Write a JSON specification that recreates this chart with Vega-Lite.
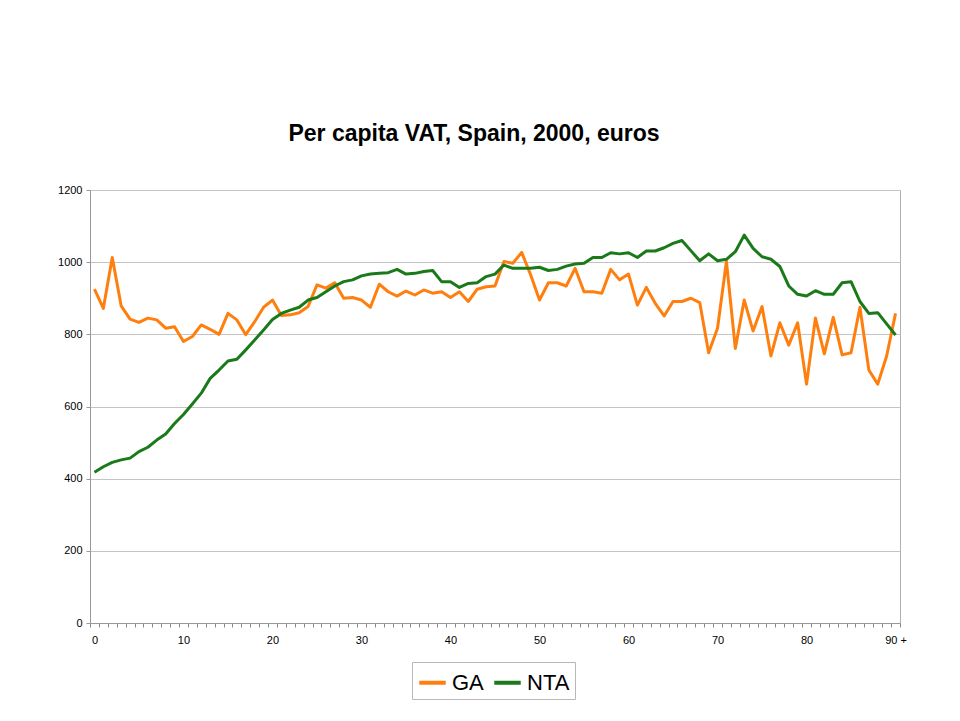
{
  "$schema": "https://vega.github.io/schema/vega-lite/v6.json",
  "autosize": {"type": "none"},
  "width": 810,
  "height": 433,
  "padding": {"left": 90, "top": 190, "right": 60, "bottom": 98},
  "background": "white",
  "title": {
    "text": "Per capita VAT, Spain, 2000, euros",
    "font": "Liberation Sans",
    "fontSize": 23,
    "fontWeight": "bold",
    "color": "black",
    "anchor": "middle",
    "dx": -21,
    "offset": 38
  },
  "config": {
    "view": {"stroke": "#b0b0b0", "strokeWidth": 1},
    "font": "Liberation Sans"
  },
  "data": {
    "values": [
      {"age": 0, "GA": 925, "NTA": 418}, {"age": 1, "GA": 872, "NTA": 433}, {"age": 2, "GA": 1013, "NTA": 445},
      {"age": 3, "GA": 879, "NTA": 452}, {"age": 4, "GA": 842, "NTA": 457}, {"age": 5, "GA": 833, "NTA": 475},
      {"age": 6, "GA": 845, "NTA": 487}, {"age": 7, "GA": 840, "NTA": 507}, {"age": 8, "GA": 817, "NTA": 524},
      {"age": 9, "GA": 821, "NTA": 553}, {"age": 10, "GA": 780, "NTA": 578}, {"age": 11, "GA": 794, "NTA": 607},
      {"age": 12, "GA": 826, "NTA": 637}, {"age": 13, "GA": 814, "NTA": 678}, {"age": 14, "GA": 800, "NTA": 701},
      {"age": 15, "GA": 858, "NTA": 726}, {"age": 16, "GA": 840, "NTA": 731}, {"age": 17, "GA": 799, "NTA": 757},
      {"age": 18, "GA": 835, "NTA": 784}, {"age": 19, "GA": 875, "NTA": 812}, {"age": 20, "GA": 895, "NTA": 841},
      {"age": 21, "GA": 852, "NTA": 858}, {"age": 22, "GA": 854, "NTA": 867}, {"age": 23, "GA": 860, "NTA": 875},
      {"age": 24, "GA": 877, "NTA": 895}, {"age": 25, "GA": 937, "NTA": 902}, {"age": 26, "GA": 928, "NTA": 918},
      {"age": 27, "GA": 943, "NTA": 934}, {"age": 28, "GA": 900, "NTA": 946}, {"age": 29, "GA": 902, "NTA": 951},
      {"age": 30, "GA": 895, "NTA": 962}, {"age": 31, "GA": 875, "NTA": 967}, {"age": 32, "GA": 939, "NTA": 969},
      {"age": 33, "GA": 918, "NTA": 971}, {"age": 34, "GA": 906, "NTA": 980}, {"age": 35, "GA": 920, "NTA": 967},
      {"age": 36, "GA": 909, "NTA": 969}, {"age": 37, "GA": 923, "NTA": 974}, {"age": 38, "GA": 914, "NTA": 977},
      {"age": 39, "GA": 918, "NTA": 946}, {"age": 40, "GA": 902, "NTA": 946}, {"age": 41, "GA": 918, "NTA": 930},
      {"age": 42, "GA": 891, "NTA": 941}, {"age": 43, "GA": 925, "NTA": 943}, {"age": 44, "GA": 932, "NTA": 960},
      {"age": 45, "GA": 934, "NTA": 967}, {"age": 46, "GA": 1002, "NTA": 992}, {"age": 47, "GA": 997, "NTA": 983},
      {"age": 48, "GA": 1027, "NTA": 983}, {"age": 49, "GA": 965, "NTA": 983}, {"age": 50, "GA": 895, "NTA": 986},
      {"age": 51, "GA": 943, "NTA": 977}, {"age": 52, "GA": 943, "NTA": 980}, {"age": 53, "GA": 934, "NTA": 989},
      {"age": 54, "GA": 983, "NTA": 995}, {"age": 55, "GA": 918, "NTA": 997}, {"age": 56, "GA": 918, "NTA": 1013},
      {"age": 57, "GA": 914, "NTA": 1013}, {"age": 58, "GA": 980, "NTA": 1026}, {"age": 59, "GA": 951, "NTA": 1023},
      {"age": 60, "GA": 967, "NTA": 1026}, {"age": 61, "GA": 881, "NTA": 1013}, {"age": 62, "GA": 930, "NTA": 1031},
      {"age": 63, "GA": 886, "NTA": 1031}, {"age": 64, "GA": 851, "NTA": 1040}, {"age": 65, "GA": 891, "NTA": 1052},
      {"age": 66, "GA": 891, "NTA": 1060}, {"age": 67, "GA": 900, "NTA": 1032}, {"age": 68, "GA": 888, "NTA": 1004},
      {"age": 69, "GA": 749, "NTA": 1023}, {"age": 70, "GA": 817, "NTA": 1004}, {"age": 71, "GA": 1002, "NTA": 1008},
      {"age": 72, "GA": 761, "NTA": 1029}, {"age": 73, "GA": 895, "NTA": 1075}, {"age": 74, "GA": 809, "NTA": 1038},
      {"age": 75, "GA": 877, "NTA": 1015}, {"age": 76, "GA": 740, "NTA": 1008}, {"age": 77, "GA": 832, "NTA": 988},
      {"age": 78, "GA": 770, "NTA": 934}, {"age": 79, "GA": 832, "NTA": 911}, {"age": 80, "GA": 662, "NTA": 906},
      {"age": 81, "GA": 845, "NTA": 921}, {"age": 82, "GA": 746, "NTA": 911}, {"age": 83, "GA": 847, "NTA": 911},
      {"age": 84, "GA": 743, "NTA": 943}, {"age": 85, "GA": 749, "NTA": 946}, {"age": 86, "GA": 875, "NTA": 891},
      {"age": 87, "GA": 701, "NTA": 858}, {"age": 88, "GA": 662, "NTA": 860}, {"age": 89, "GA": 740, "NTA": 829},
      {"age": 90, "GA": 858, "NTA": 798}
    ]
  },
  "transform": [{"fold": ["GA", "NTA"], "as": ["series", "value"]}],
  "mark": {"type": "line", "strokeWidth": 3, "strokeJoin": "round"},
  "encoding": {
    "x": {
      "field": "age",
      "type": "quantitative",
      "scale": {"domain": [-0.5, 90.5], "nice": false, "zero": false},
      "axis": {
        "title": null,
        "grid": false,
        "domainColor": "#999999",
        "tickColor": "#888888",
        "tickSize": 4,
        "tickOpacity": {"condition": {"test": "datum.value % 1 === 0", "value": 0}, "value": 1},
        "values": [-0.5, 0, 0.5, 1.5, 2.5, 3.5, 4.5, 5.5, 6.5, 7.5, 8.5, 9.5, 10, 10.5, 11.5, 12.5, 13.5, 14.5, 15.5, 16.5, 17.5, 18.5, 19.5, 20, 20.5, 21.5, 22.5, 23.5, 24.5, 25.5, 26.5, 27.5, 28.5, 29.5, 30, 30.5, 31.5, 32.5, 33.5, 34.5, 35.5, 36.5, 37.5, 38.5, 39.5, 40, 40.5, 41.5, 42.5, 43.5, 44.5, 45.5, 46.5, 47.5, 48.5, 49.5, 50, 50.5, 51.5, 52.5, 53.5, 54.5, 55.5, 56.5, 57.5, 58.5, 59.5, 60, 60.5, 61.5, 62.5, 63.5, 64.5, 65.5, 66.5, 67.5, 68.5, 69.5, 70, 70.5, 71.5, 72.5, 73.5, 74.5, 75.5, 76.5, 77.5, 78.5, 79.5, 80, 80.5, 81.5, 82.5, 83.5, 84.5, 85.5, 86.5, 87.5, 88.5, 89.5, 90, 90.5],
        "labelExpr": "datum.value % 10 === 0 ? (datum.value === 90 ? '90 +' : datum.label) : ''",
        "labelOverlap": false,
        "labelFlush": false,
        "labelFontSize": 11,
        "labelColor": "black",
        "labelPadding": 7
      }
    },
    "y": {
      "field": "value",
      "type": "quantitative",
      "scale": {"domain": [0, 1200], "nice": false},
      "axis": {
        "title": null,
        "values": [0, 200, 400, 600, 800, 1000, 1200],
        "format": "d",
        "grid": true,
        "gridColor": "#c4c4c4",
        "domainColor": "#999999",
        "tickColor": "#999999",
        "tickSize": 4,
        "labelFontSize": 11,
        "labelColor": "black",
        "labelPadding": 4
      }
    },
    "color": {
      "field": "series",
      "type": "nominal",
      "scale": {"domain": ["GA", "NTA"], "range": ["#ff7f0e", "#1a7a1a"]},
      "legend": {
        "title": null,
        "orient": "none",
        "direction": "horizontal",
        "legendX": 322,
        "legendY": 472,
        "strokeColor": "#b8b8b8",
        "padding": 5,
        "symbolType": "stroke",
        "symbolStrokeWidth": 4,
        "symbolSize": 700,
        "labelFontSize": 22,
        "labelColor": "black",
        "labelOffset": 4,
        "columnPadding": 2
      }
    }
  }
}
